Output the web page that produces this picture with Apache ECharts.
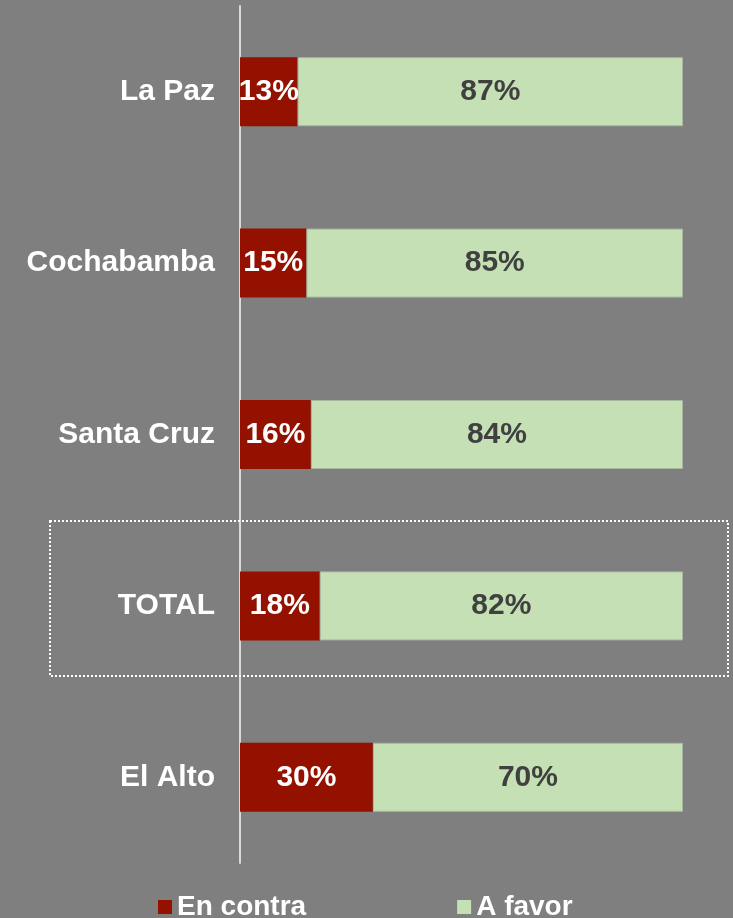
<!DOCTYPE html>
<html>
<head>
<meta charset="utf-8">
<script src="https://cdn.jsdelivr.net/npm/echarts@6/dist/echarts.min.js"></script>
<style>
  html, body { margin: 0; padding: 0; background: #7f7f7f; }
  #chart { width: 733px; height: 918px; }
</style>
</head>
<body>
<div id="chart"></div>
<script>
// categories top -> bottom
const cities = ['La Paz', 'Cochabamba', 'Santa Cruz', 'TOTAL', 'El Alto']
const enContra = [13, 15, 16, 18, 30]
const aFavor = [87, 85, 84, 82, 70]

const chart = echarts.init(document.getElementById('chart'))

const labelFont = {
  fontFamily: 'Liberation Sans, Arial, sans-serif',
  fontWeight: 'bold',
  fontSize: 30
}

const option = {
  backgroundColor: '#7f7f7f',
  animation: false,
  grid: { left: 240, right: 50, top: 6, bottom: 55 },
  legend: {
    top: 888,
    left: 153,
    itemWidth: 14,
    itemHeight: 14,
    itemGap: 151,
    icon: 'rect',
    data: ['En contra', 'A favor'],
    itemStyle: { borderWidth: 0 },
    textStyle: {
      color: '#fff',
      fontFamily: 'Liberation Sans, Arial, sans-serif',
      fontWeight: 'bold',
      fontSize: 28
    }
  },
  xAxis: {
    type: 'value',
    min: 0,
    max: 100,
    show: false
  },
  yAxis: {
    type: 'category',
    data: cities,
    inverse: true,
    axisLine: { lineStyle: { color: '#d9d9d9', width: 2 } },
    axisTick: { show: false },
    axisLabel: Object.assign({ color: '#fff', margin: 25 }, labelFont)
  },
  series: [
    {
      name: 'En contra',
      type: 'bar',
      stack: 'all',
      barWidth: 69,
      data: enContra,
      itemStyle: { color: '#941100' },
      label: Object.assign({
        show: true,
        position: 'inside',
        color: '#fff',
        formatter: '{c}%'
      }, labelFont)
    },
    {
      name: 'A favor',
      type: 'bar',
      stack: 'all',
      barWidth: 69,
      data: aFavor,
      itemStyle: { color: '#c4e0b4', borderColor: '#a8b8a0', borderWidth: 1 },
      label: Object.assign({
        show: true,
        position: 'inside',
        color: '#404040',
        formatter: '{c}%'
      }, labelFont)
    }
  ],
  graphic: [
    {
      // dotted box around TOTAL
      type: 'rect',
      shape: { x: 50, y: 521, width: 678, height: 155 },
      style: { fill: 'none', stroke: '#fff', lineWidth: 2, lineDash: [2, 2] },
      z: 10
    }
  ]
}

chart.setOption(option)
</script>
</body>
</html>
